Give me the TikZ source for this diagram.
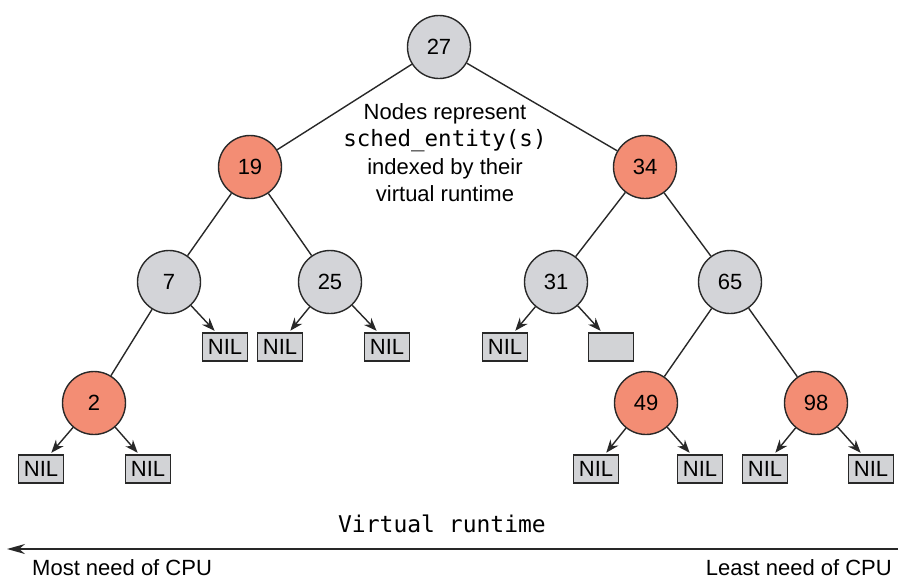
\documentclass[tikz,border=0pt]{standalone}
\usepackage{fontspec}
\setmainfont{Liberation Sans}
\newfontfamily\rtmono{DejaVu Sans Mono}
\usetikzlibrary{arrows.meta}

\definecolor{vtxgray}{RGB}{211,212,216}
\definecolor{vtxred}{RGB}{243,141,116}
\definecolor{nilfill}{RGB}{210,211,214}
\definecolor{inkgray}{RGB}{40,40,40}

\tikzset{
  vtx/.style={circle, draw=inkgray, line width=1.4pt, minimum size=63pt, inner sep=0pt, font=\fontsize{22}{26}\selectfont},
  grayvtx/.style={vtx, fill=vtxgray},
  redvtx/.style={vtx, fill=vtxred},
  nilbox/.style={draw=inkgray, fill=nilfill, line width=1.4pt, minimum width=45pt, minimum height=28pt, inner sep=0pt, font=\fontsize{22}{25}\selectfont},
  treeedge/.style={draw=inkgray, line width=1.4pt},
  nilarrow/.style={draw=inkgray, line width=1.4pt, -{Stealth[length=13pt,width=10pt]}, shorten >=2pt},
}

\begin{document}
\begin{tikzpicture}[x=1pt,y=-1pt]
\useasboundingbox (0,0) rectangle (898,581);

%Shape: Circle (tree vertices)
\node [grayvtx] (v27) at (439,47) {27};
\node [redvtx] (v19) at (250,167) {19};
\node [redvtx] (v34) at (645,167) {34};
\node [grayvtx] (v7) at (169,282) {7};
\node [grayvtx] (v25) at (330,282) {25};
\node [grayvtx] (v31) at (556,282) {31};
\node [grayvtx] (v65) at (730,282) {65};
\node [redvtx] (v2) at (94,403) {2};
\node [redvtx] (v49) at (646,403) {49};
\node [redvtx] (v98) at (816,403) {98};

%Shape: Rectangle (leaves)
\node [nilbox] (nil7r) at (225,347) {NIL};
\node [nilbox] (nil25l) at (280,347) {NIL};
\node [nilbox] (nil25r) at (387,347) {NIL};
\node [nilbox] (nil31l) at (505,347) {NIL};
\node [nilbox] (nil31r) at (611,347) {};
\node [nilbox] (nil2l) at (41,469) {NIL};
\node [nilbox] (nil2r) at (148,469) {NIL};
\node [nilbox] (nil49l) at (596,469) {NIL};
\node [nilbox] (nil49r) at (700,469) {NIL};
\node [nilbox] (nil98l) at (765,469) {NIL};
\node [nilbox] (nil98r) at (871,469) {NIL};

%Straight Lines
\draw [treeedge] (v27) -- (v19);
\draw [treeedge] (v27) -- (v34);
\draw [treeedge] (v19) -- (v7);
\draw [treeedge] (v19) -- (v25);
\draw [treeedge] (v34) -- (v31);
\draw [treeedge] (v34) -- (v65);
\draw [treeedge] (v7) -- (v2);
\draw [treeedge] (v65) -- (v49);
\draw [treeedge] (v65) -- (v98);

%Straight Lines (to leaves)
\draw [nilarrow] (v7) -- ([xshift=-9pt]nil7r.north);
\draw [nilarrow] (v25) -- ([xshift=9pt]nil25l.north);
\draw [nilarrow] (v25) -- ([xshift=-9pt]nil25r.north);
\draw [nilarrow] (v31) -- ([xshift=9pt]nil31l.north);
\draw [nilarrow] (v31) -- ([xshift=-9pt]nil31r.north);
\draw [nilarrow] (v2) -- ([xshift=9pt]nil2l.north);
\draw [nilarrow] (v2) -- ([xshift=-9pt]nil2r.north);
\draw [nilarrow] (v49) -- ([xshift=9pt]nil49l.north);
\draw [nilarrow] (v49) -- ([xshift=-9pt]nil49r.north);
\draw [nilarrow] (v98) -- ([xshift=9pt]nil98l.north);
\draw [nilarrow] (v98) -- ([xshift=-9pt]nil98r.north);

% Text Node
\node [anchor=north, align=center, inner sep=0pt, font=\fontsize{22}{27.5}\selectfont] (note) at (445,103) {Nodes represent\\{\rtmono\fontsize{22.5}{27.5}\selectfont sched\_entity(s)}\\indexed by their\\virtual runtime};

%Straight Lines (axis)
\coordinate (axisR) at (898,549);
\coordinate (axisL) at (7,549);
\draw [draw=inkgray, line width=1.6pt, -{Stealth[length=18pt,width=10pt]}] (axisR) -- (axisL);

% Text Node
\node [anchor=base, inner sep=0pt, font=\rtmono\fontsize{23}{27}\selectfont] (vrt) at (442,532) {Virtual runtime};
% Text Node
\node [anchor=base west, inner sep=0pt, font=\fontsize{22}{26}\selectfont] (most) at (32,575) {Most need of CPU};
% Text Node
\node [anchor=base east, inner sep=0pt, font=\fontsize{22}{26}\selectfont] (least) at (892,575) {Least need of CPU};

\end{tikzpicture}
\end{document}
